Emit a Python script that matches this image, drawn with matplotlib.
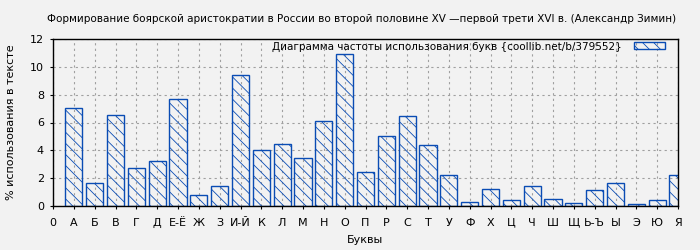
import matplotlib

matplotlib.use("Agg")
import matplotlib.pyplot as plt

letters = ["А", "Б", "В", "Г", "Д", "Е-Ё", "Ж", "З", "И-Й", "К", "Л", "М", "Н",
           "О", "П", "Р", "С", "Т", "У", "Ф", "Х", "Ц", "Ч", "Ш", "Щ", "Ь-Ъ",
           "Ы", "Э", "Ю", "Я"]
percent = [7.03, 1.63, 6.53, 2.71, 3.22, 7.68, 0.77, 1.42, 9.41, 4.01, 4.44,
           3.43, 6.10, 10.92, 2.43, 5.02, 6.46, 4.37, 2.21, 0.27, 1.20, 0.41,
           1.44, 0.48, 0.19, 1.13, 1.63, 0.14, 0.41, 2.20]
tick_labels = ["0"] + letters

title = ("Формирование боярской аристократии в России во второй половине XV"
         " \u2014первой трети XVI в. (Александр Зимин)")
legend_label = "Диаграмма частоты использования букв {coollib.net/b/379552}"

BG = "#f2f2f2"
BLUE = "#0a4cb4"

plt.rcParams["hatch.color"] = BLUE
plt.rcParams["hatch.linewidth"] = 0.6

fig = plt.figure(figsize=(7, 2.5), dpi=100, facecolor=BG)
ax = fig.add_axes([53 / 700, 44 / 250, 625 / 700, 167 / 250])
ax.set_facecolor(BG)

positions = list(range(1, len(letters) + 1))
ax.bar(positions, percent, width=0.82, facecolor="none", edgecolor=BLUE,
       linewidth=1.0, hatch="\\\\\\", label=legend_label)

ax.set_xlim(0, len(letters))
ax.set_ylim(0, 12)
ax.set_xticks(range(len(tick_labels)))
ax.set_xticklabels(tick_labels)
ax.set_yticks(range(0, 13, 2))
ax.tick_params(labelsize=8, length=2.5, direction="out", pad=4)
ax.tick_params(axis="x", pad=6)
ax.grid(True, color="#a0a0a0", linestyle=(0, (2, 3)), linewidth=0.8)
ax.set_axisbelow(True)
for spine in ax.spines.values():
    spine.set_linewidth(1.0)

ax.set_xlabel("Буквы", fontsize=8, labelpad=5)
ax.set_ylabel("% использования в тексте", fontsize=8, labelpad=10)
fig.text(0.517, 0.925, title, ha="center", va="center", fontsize=7.5)

ax.legend(loc="upper right", bbox_to_anchor=(0.979, 0.985),
          markerfirst=False, frameon=False, fontsize=7.5,
          handlelength=3.0, handleheight=0.62, borderaxespad=0,
          borderpad=0, handletextpad=1.15)

fig.savefig("out.png", dpi=100, facecolor=BG)
